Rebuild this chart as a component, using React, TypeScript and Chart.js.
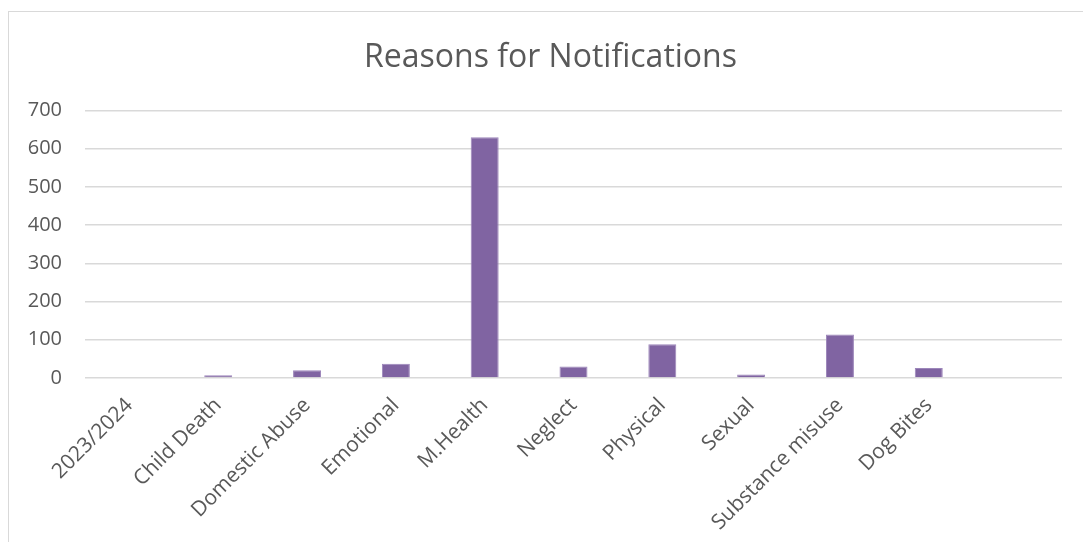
import React, { useEffect, useRef } from "react";
import { Chart, registerables } from "chart.js";

Chart.register(...registerables);

const categories = [
  "2023/2024",
  "Child Death",
  "Domestic Abuse",
  "Emotional",
  "M.Health",
  "Neglect",
  "Physical",
  "Sexual",
  "Substance misuse",
  "Dog Bites",
  "",
];
const notifications = [null, 7, 20, 37, 630, 30, 88, 9, 114, 26, null];
const yTicks = [0, 100, 200, 300, 400, 500, 600, 700];
const chartTitle = "Reasons for Notifications";

const FONT = "'Open Sans', 'DejaVu Sans', sans-serif";
const TEXT = "#595959";

export default function App() {
  const ref = useRef<HTMLCanvasElement | null>(null);

  useEffect(() => {
    if (!ref.current) return;
    const chart = new Chart(ref.current, {
      type: "bar",
      data: {
        labels: categories,
        datasets: [
          {
            label: "Notifications",
            data: notifications as any,
            backgroundColor: "#8064A2",
            borderColor: "#9c86ba",
            borderWidth: 1,
            categoryPercentage: 1,
            barPercentage: 0.315,
          },
        ],
      },
      options: {
        animation: false,
        responsive: false,
        maintainAspectRatio: false,
        layout: { padding: { left: 0, right: 0, top: 0, bottom: 0 } },
        plugins: {
          legend: { display: false },
          tooltip: { enabled: false },
          title: {
            display: true,
            text: chartTitle,
            color: TEXT,
            font: { family: FONT, size: 32, weight: "normal" },
            padding: { top: 27, bottom: 33 },
          },
        },
        scales: {
          x: {
            grid: { display: false },
            border: { display: false },
            ticks: {
              color: TEXT,
              font: { family: FONT, size: 21 },
              maxRotation: 45,
              minRotation: 45,
              autoSkip: false,
              padding: 7,
            },
            afterFit: (scale: any) => {
              scale.height = 154;
            },
          },
          y: {
            min: 0,
            max: 700,
            afterBuildTicks: (scale: any) => {
              scale.ticks = yTicks.map((v) => ({ value: v }));
            },
            grid: { color: "#d9d9d9", lineWidth: 1.5, drawTicks: false },
            border: { display: false },
            ticks: {
              color: TEXT,
              font: { family: FONT, size: 20 },
              padding: 23,
            },
            afterFit: (scale: any) => {
              scale.width = 76;
            },
          },
          spacer: {
            type: "linear",
            position: "right",
            display: true,
            grid: { display: false, drawTicks: false },
            border: { display: false },
            ticks: { display: false },
            afterFit: (scale: any) => {
              scale.width = 30;
            },
          },
        },
      },
    } as any);
    return () => chart.destroy();
  }, []);

  return (
    <div
      style={{
        position: "fixed",
        left: 8,
        top: 11,
        width: 1100,
        height: 560,
        borderLeft: "1px solid #d9d9d9",
        borderTop: "1px solid #d9d9d9",
        background: "#fff",
      }}
    >
      <canvas ref={ref} width={1083} height={520} style={{ display: "block" }} />
    </div>
  );
}
